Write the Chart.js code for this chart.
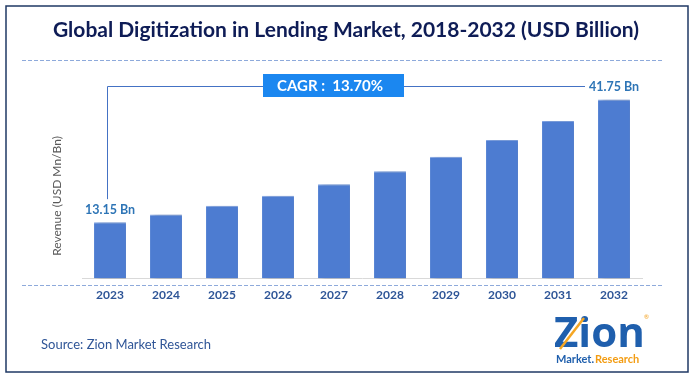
<!DOCTYPE html>
<html>
<head>
<meta charset="utf-8">
<script src="https://cdn.jsdelivr.net/npm/chart.js@4"></script>
<style>
body { margin: 0; background: #fff; }
#wrap { width: 693px; height: 381px; }
</style>
</head>
<body>
<div id="wrap"><canvas id="myChart" width="693" height="381"></canvas></div>
<script>
var years = ['2023', '2024', '2025', '2026', '2027', '2028', '2029', '2030', '2031', '2032'];
var revenue = [13.15, 14.95, 17.0, 19.33, 21.98, 24.99, 28.41, 32.30, 36.73, 41.75];
var firstLabel = '13.15 Bn';
var lastLabel = '41.75 Bn';
var cagrText = 'CAGR :  13.70%';

var font = 'Lato, "Open Sans", sans-serif';

// shadow behind the bars
var barShadow = {
    id: 'barShadow',
    beforeDatasetsDraw: function(chart) {
        var c = chart.ctx;
        c.save();
        c.shadowColor = 'rgba(0,0,0,0.45)';
        c.shadowBlur = 4;
        c.shadowOffsetX = 4;
        c.shadowOffsetY = 2;
    },
    afterDatasetsDraw: function(chart) {
        chart.ctx.restore();
    }
};

var decor = {
    id: 'decor',
    afterDraw: function(chart) {
        var c = chart.ctx;
        var bars = chart.getDatasetMeta(0).data;
        var first = bars[0], last = bars[bars.length - 1];
        c.save();

        // outer frame
        c.strokeStyle = '#1f3864';
        c.lineWidth = 1.5;
        c.strokeRect(6, 6, 682, 366);

        // title
        c.fillStyle = '#0e1c56';
        c.font = 'bold 21px ' + font;
        c.textAlign = 'center';
        c.textBaseline = 'middle';
        c.fillText('Global Digitization in Lending Market, 2018-2032 (USD Billion)', 346, 30);

        // dashed rules
        c.strokeStyle = '#8eaadb';
        c.lineWidth = 1;
        c.setLineDash([4, 2]);
        c.beginPath();
        c.moveTo(22, 60.5); c.lineTo(663, 60.5);
        c.moveTo(22, 285.5); c.lineTo(663, 285.5);
        c.stroke();
        c.setLineDash([]);

        // y axis title
        c.save();
        c.translate(57, 196);
        c.rotate(-Math.PI / 2);
        c.fillStyle = '#595959';
        c.font = '12px ' + font;
        c.fillText('Revenue (USD Mn/Bn)', 0, 0);
        c.restore();

        // value labels
        c.fillStyle = '#2e75b6';
        c.font = 'bold 12.5px ' + font;
        c.fillText(firstLabel, first.x, first.y - 12);
        c.textAlign = 'left';
        c.fillText(lastLabel, last.x - 25, 87);
        c.textAlign = 'center';

        // CAGR bracket
        var lineY = 86.5;
        c.strokeStyle = '#4472c4';
        c.lineWidth = 1;
        c.beginPath();
        c.moveTo(first.x - 2.5, first.y - 23);
        c.lineTo(first.x - 2.5, lineY);
        c.lineTo(263, lineY);
        c.moveTo(404, lineY);
        c.lineTo(last.x - 29, lineY);
        c.stroke();

        c.fillStyle = '#1b87f0';
        c.fillRect(263, 74, 141, 23);
        c.fillStyle = '#ffffff';
        c.font = 'bold 15px ' + font;
        c.fillText(cagrText, 330, 86);

        // source
        c.textAlign = 'left';
        c.fillStyle = '#2f5597';
        c.font = '13px ' + font;
        c.fillText('Source: Zion Market Research', 41, 345);

        // logo
        c.fillStyle = '#1f5fad';
        c.font = 'bold 42px "Open Sans", sans-serif';
        c.fillText('Zion', 554, 335);
        c.strokeStyle = '#f5a623';
        c.lineWidth = 2.5;
        c.beginPath();
        c.moveTo(560, 349); c.lineTo(584, 318);
        c.stroke();
        c.font = 'bold 11px ' + font;
        c.fillStyle = '#1f5fad';
        c.fillText('Market.', 556, 359);
        c.fillStyle = '#f39c12';
        c.fillText('Research', 595, 359);
        c.font = '6px ' + font;
        c.fillText('\u00ae', 644, 317);
        c.restore();
    }
};

const ctx = document.getElementById('myChart');
new Chart(ctx, {
    type: 'bar',
    data: {
        labels: years,
        datasets: [{
            data: revenue,
            backgroundColor: '#4d7cd1',
            borderColor: '#7fa3e3',
            borderWidth: { top: 1, left: 0, right: 0, bottom: 0 },
            borderSkipped: 'bottom',
            categoryPercentage: 1,
            barPercentage: 0.57
        }]
    },
    options: {
        responsive: false,
        animation: false,
        layout: { padding: { left: 82, right: 51, top: 64, bottom: 78 } },
        plugins: { legend: { display: false }, tooltip: { enabled: false } },
        scales: {
            x: {
                grid: { display: false },
                border: { color: '#d9d9d9', width: 1 },
                ticks: { color: '#2e5597', font: { family: font, size: 12, weight: 'bold' }, padding: 1 }
            },
            y: { display: false, min: 0, max: 50 }
        }
    },
    plugins: [barShadow, decor]
});
</script>
</body>
</html>
